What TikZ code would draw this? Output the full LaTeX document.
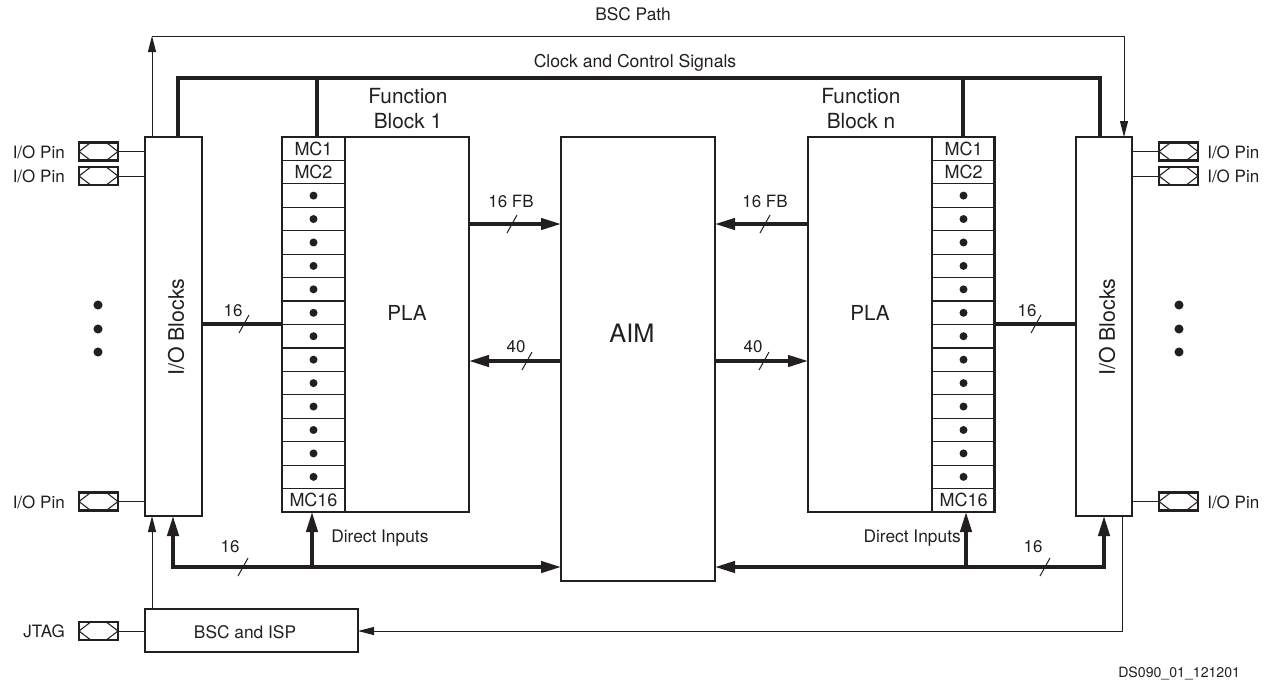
\documentclass[tikz,border=0pt]{standalone}
\usepackage{fontspec}
\setmainfont{TeX Gyre Heros}
\usetikzlibrary{arrows.meta,calc}
\definecolor{ink}{RGB}{35,31,32}
\newcommand{\fsz}[1]{\fontsize{#1}{#1}\selectfont}
\begin{document}
\begin{tikzpicture}[x=0.75pt,y=-0.75pt,
  every node/.style={text=ink},
  box/.style={draw=ink, line width=1.5pt, inner sep=0pt, outer sep=0pt, anchor=north west},
  cell/.style={draw=ink, line width=0.9pt, inner sep=0pt, outer sep=0pt, anchor=north west,
               minimum width=47.25pt, minimum height=17.58pt},
  pin/.style={draw=ink, line width=2pt, inner sep=0pt, outer sep=0pt,
              minimum width=29.25pt, minimum height=13.5pt,
              path picture={\draw[ink, line width=0.8pt]
                (path picture bounding box.west)
                -- ($(path picture bounding box.north west)!0.3!(path picture bounding box.north east)$)
                -- ($(path picture bounding box.north west)!0.7!(path picture bounding box.north east)$)
                -- (path picture bounding box.east)
                -- ($(path picture bounding box.south west)!0.7!(path picture bounding box.south east)$)
                -- ($(path picture bounding box.south west)!0.3!(path picture bounding box.south east)$)
                -- cycle;}},
  thinline/.style={draw=ink, line width=0.75pt},
  sigarrow/.style={thinline, -{Triangle[length=12pt,width=6pt]}},
  bus/.style={draw=ink, line width=2.5pt},
  busarrow/.style={bus, -{Triangle[length=15pt,width=8.5pt]}},
  slashmark/.style={draw=ink, line width=0.75pt},
  lbl/.style={font=\fsz{12.75}, inner sep=0pt},
  buslbl/.style={font=\fsz{12.7}, inner sep=0pt}
]
\useasboundingbox (0,0) rectangle (1269,683);

% macrocell columns
\foreach \k in {1,...,16} {
  \pgfmathsetmacro\yy{137+(\k-1)*23.4375}
  \node[cell] (mcA\k) at (282,\yy) {};
  \node[cell] (mcB\k) at (932,\yy) {};
}
\foreach \k in {3,...,15} {
  \fill[ink] (mcA\k.center) circle[radius=3pt];
  \fill[ink] (mcB\k.center) circle[radius=3pt];
}
\node[font=\fsz{13.5}] (tA1) at (mcA1.center) {MC1};
\node[font=\fsz{13.5}] (tA2) at (mcA2.center) {MC2};
\node[font=\fsz{13.5}] (tA16) at (mcA16.center) {MC16};
\node[font=\fsz{13.5}] (tB1) at (mcB1.center) {MC1};
\node[font=\fsz{13.5}] (tB2) at (mcB2.center) {MC2};
\node[font=\fsz{13.5}] (tB16) at (mcB16.center) {MC16};

% main blocks
\node[box, minimum width=42.75pt, minimum height=284.25pt] (ioL) at (145,137) {};
\node[box, minimum width=42pt, minimum height=284.25pt] (ioR) at (1076,137) {};
\node[box, minimum width=140.25pt, minimum height=281.25pt] (fb1) at (282,137) {};
\node[box, minimum width=139.5pt, minimum height=281.25pt] (fbn) at (808,137) {};
\node[box, minimum width=115.5pt, minimum height=333pt] (aim) at (561,137) {};
\node[box, minimum width=159.75pt, minimum height=32.25pt] (bsc) at (145,609) {};

% texts in blocks
\node[font=\fsz{16}, rotate=90, inner sep=0pt] (ioLt) at (176,327) {I/O Blocks};
\node[font=\fsz{16}, rotate=90, inner sep=0pt] (ioRt) at (1107,327) {I/O Blocks};
\node[font=\fsz{15.5}, anchor=base, inner sep=0pt] (pla1) at (407,320) {PLA};
\node[font=\fsz{15.5}, anchor=base, inner sep=0pt] (plan) at (870,320) {PLA};
\node[font=\fsz{19}, anchor=base, inner sep=0pt] (aimt) at (632,342) {AIM};
\node[font=\fsz{13}, anchor=base, inner sep=0pt] (bsct) at (245,638) {BSC and ISP};
\node[font=\fsz{15.6}, anchor=base, inner sep=0pt] (f1a) at (408,103) {Function};
\node[font=\fsz{15.6}, anchor=base, inner sep=0pt] (f1b) at (408,128) {Block 1};
\node[font=\fsz{15.6}, anchor=base, inner sep=0pt] (fna) at (861,103) {Function};
\node[font=\fsz{15.6}, anchor=base, inner sep=0pt] (fnb) at (861,128) {Block n};

% pins
\node[pin] (pL1) at (98.5,151.5) {};
\node[pin] (pL2) at (98.5,176) {};
\node[pin] (pL3) at (98.5,501.5) {};
\node[pin] (pJ)  at (98.5,631) {};
\node[pin] (pR1) at (1178.5,151.5) {};
\node[pin] (pR2) at (1178.5,176) {};
\node[pin] (pR3) at (1178.5,501.5) {};
\node[lbl, anchor=base east] (lL1) at (65,158) {I/O Pin};
\node[lbl, anchor=base east] (lL2) at (65,182.5) {I/O Pin};
\node[lbl, anchor=base east] (lL3) at (65,508) {I/O Pin};
\node[lbl, anchor=base east] (lJ)  at (65,637.5) {JTAG};
\node[lbl, anchor=base west] (lR1) at (1207,158) {I/O Pin};
\node[lbl, anchor=base west] (lR2) at (1207,182.5) {I/O Pin};
\node[lbl, anchor=base west] (lR3) at (1207,508) {I/O Pin};
\draw[thinline] (pL1.east) -- (ioL.west |- pL1.east);
\draw[thinline] (pL2.east) -- (ioL.west |- pL2.east);
\draw[thinline] (pL3.east) -- (ioL.west |- pL3.east);
\draw[thinline] (pJ.east) -- (bsc.west |- pJ.east);
\draw[thinline] (pR1.west) -- (ioR.east |- pR1.west);
\draw[thinline] (pR2.west) -- (ioR.east |- pR2.west);
\draw[thinline] (pR3.west) -- (ioR.east |- pR3.west);

% ellipsis dots
\foreach \yy in {305,329,352} {
  \fill[ink] (98,\yy) circle[radius=3.4pt];
  \fill[ink] (1179,\yy) circle[radius=3.4pt];
}

% BSC path
\coordinate (bscTL) at (152,36);
\coordinate (bscTR) at (1124,36);
\coordinate (retC) at (1122,631);
\draw[sigarrow] (bsc.north -| bscTL) -- (ioL.south -| bscTL);
\draw[sigarrow] (ioL.north -| bscTL) -- (bscTL);
\draw[sigarrow] (bscTL) -- (bscTR) -- (ioR.north -| bscTR);
\draw[sigarrow] (ioR.south -| retC) -- (retC) -- (bsc.east |- retC);
\node[font=\fsz{13}, anchor=base, inner sep=0pt] (bscLbl) at (633,20) {BSC Path};

% clock bus
\coordinate (clkL) at (178,78);
\coordinate (clkR) at (1100,78);
\coordinate (ck1) at (317,78);
\coordinate (ckn) at (963,78);
\draw[bus] (ioL.north -| clkL) -- (clkL) -- (clkR) -- (ioR.north -| clkR);
\draw[bus] (ck1) -- (fb1.north -| ck1);
\draw[bus] (ckn) -- (fbn.north -| ckn);
\node[font=\fsz{13.2}, anchor=base, inner sep=0pt] (clkLbl) at (635,67) {Clock and Control Signals};

% FB <-> AIM
\coordinate (yFB) at (0,224);
\coordinate (y40) at (0,361);
\coordinate (yIO) at (0,324);
\draw[busarrow] (fb1.east |- yFB) -- (aim.west |- yFB);
\draw[busarrow] (aim.west |- y40) -- (fb1.east |- y40);
\draw[busarrow] (fbn.west |- yFB) -- (aim.east |- yFB);
\draw[busarrow] (aim.east |- y40) -- (fbn.west |- y40);
\draw[bus] (ioL.east |- yIO) -- (fb1.west |- yIO);
\draw[bus] (fbn.east |- yIO) -- (ioR.west |- yIO);

\node[buslbl] (l16fb1) at (511,201) {16 FB};
\node[buslbl] (l40a) at (516,347) {40};
\node[buslbl] (l16fbn) at (765,201) {16 FB};
\node[buslbl] (l40b) at (753,347) {40};
\node[buslbl] (l16a) at (233,311) {16};
\node[buslbl] (l16b) at (1027,311) {16};
\node[buslbl] (l16c) at (230,547) {16};
\node[buslbl] (l16d) at (1033,547) {16};

\draw[slashmark] (512,224) ++(-5,9) -- ++(10,-18);
\draw[slashmark] (527,361) ++(-5,9) -- ++(10,-18);
\draw[slashmark] (765,224) ++(-5,9) -- ++(10,-18);
\draw[slashmark] (764,361) ++(-5,9) -- ++(10,-18);
\draw[slashmark] (244,324) ++(-5,9) -- ++(10,-18);
\draw[slashmark] (1036,324) ++(-5,9) -- ++(10,-18);
\draw[slashmark] (243,567) ++(-5,9) -- ++(10,-18);
\draw[slashmark] (1045,567) ++(-5,9) -- ++(10,-18);

% direct inputs buses
\coordinate (dL) at (173,567);
\coordinate (dL2) at (312,567);
\coordinate (dR) at (1104,567);
\coordinate (dR2) at (966,567);
\draw[bus, {Triangle[length=15pt,width=8.5pt]}-{Triangle[length=15pt,width=8.5pt]}]
  (ioL.south -| dL) -- (dL) -- (aim.west |- dL);
\draw[busarrow] (dL2) -- (fb1.south -| dL2);
\draw[bus, {Triangle[length=15pt,width=8.5pt]}-{Triangle[length=15pt,width=8.5pt]}]
  (ioR.south -| dR) -- (dR) -- (aim.east |- dR);
\draw[busarrow] (dR2) -- (fbn.south -| dR2);
\node[font=\fsz{13}, anchor=base west, inner sep=0pt] (diL) at (331,542) {Direct Inputs};
\node[font=\fsz{13}, anchor=base east, inner sep=0pt] (diR) at (961,542) {Direct Inputs};

\node[font=\fsz{10.6}, anchor=base west, inner sep=0pt] (dsid) at (1118,677) {DS090\_01\_121201};
\end{tikzpicture}
\end{document}
